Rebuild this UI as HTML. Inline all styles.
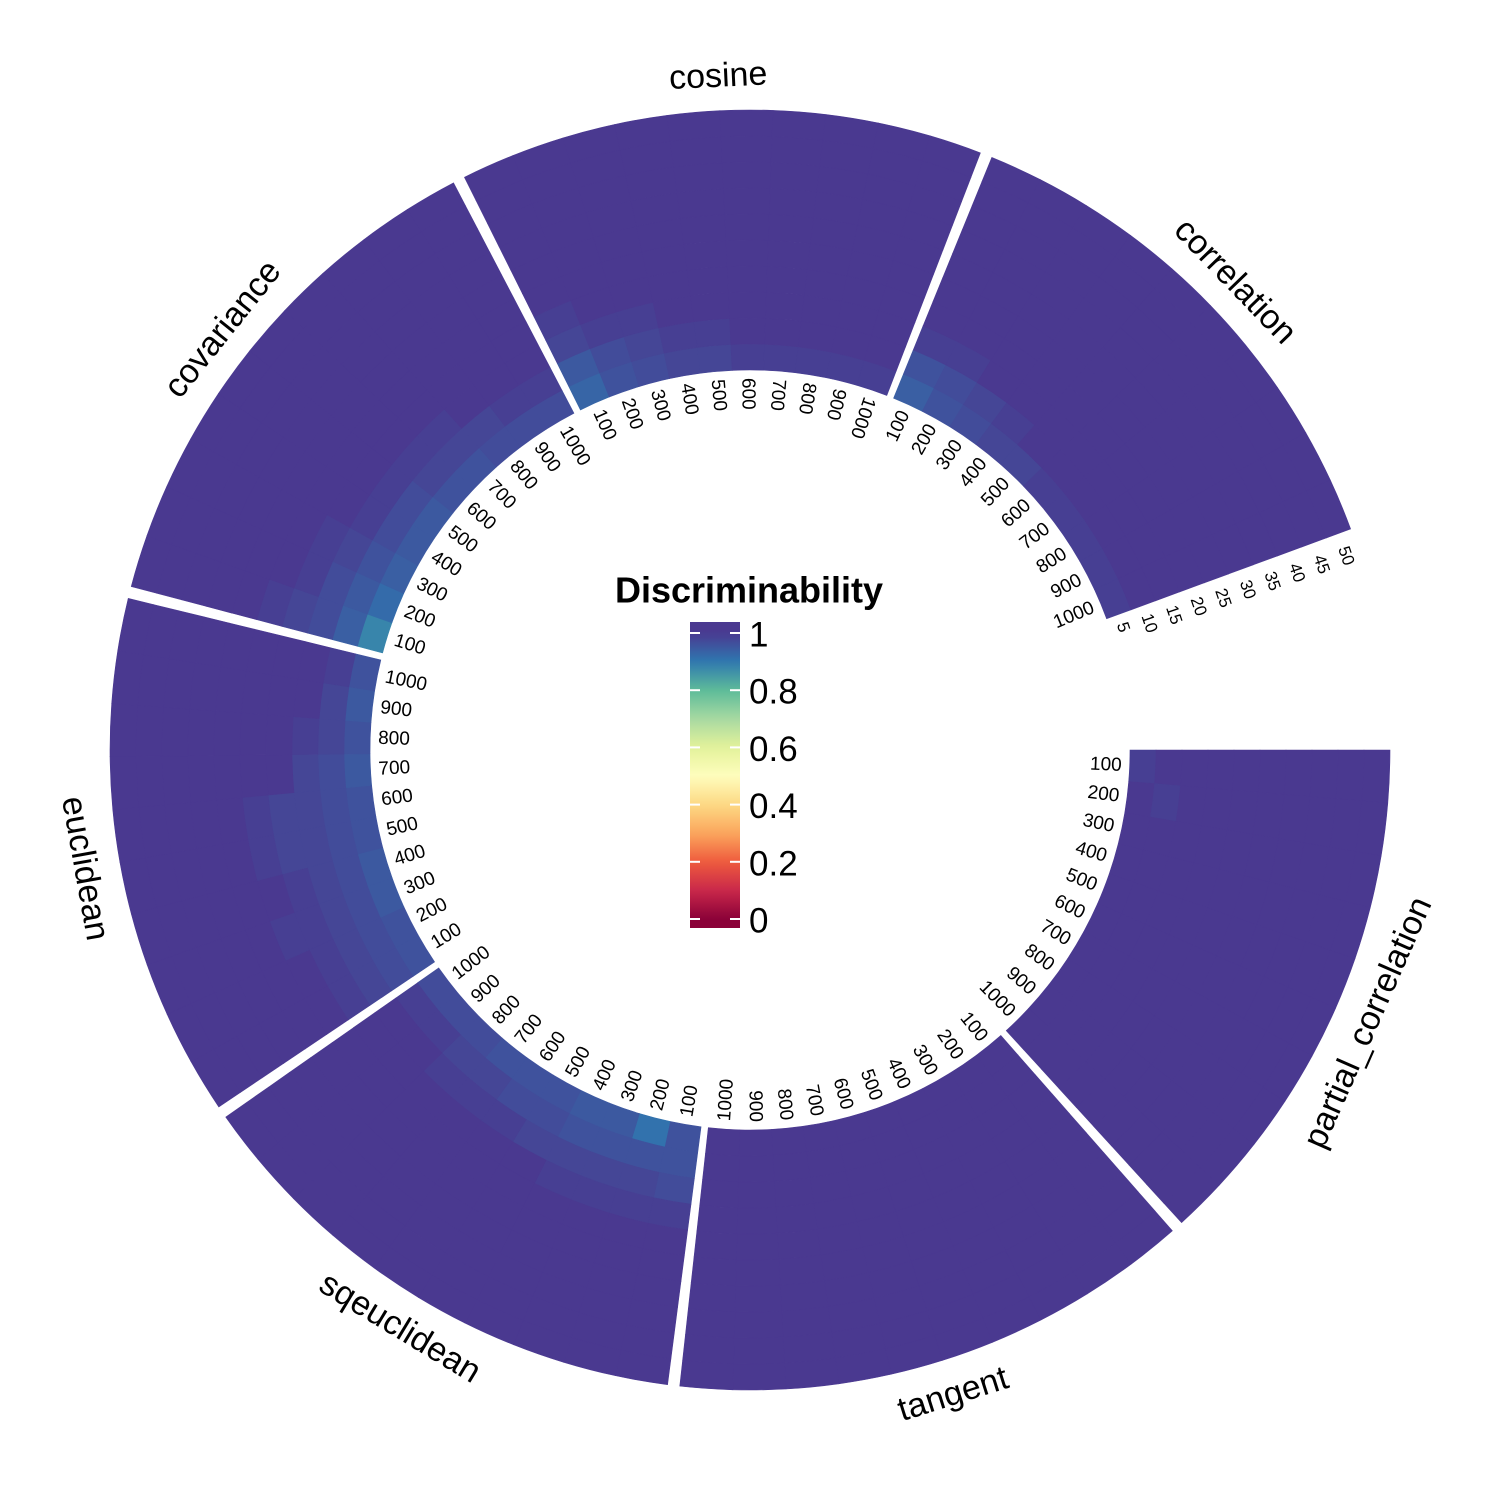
<!DOCTYPE html>
<html><head><meta charset="utf-8"><style>
html,body{margin:0;padding:0;background:#fff}
svg{display:block}
text{font-family:"Liberation Sans",Arial,sans-serif}
</style></head><body>
<svg id="chart" width="1500" height="1500" viewBox="0 0 1500 1500" xmlns="http://www.w3.org/2000/svg">
<g id="cells"></g>
<g id="labels"></g>
<g id="legend"></g>
</svg>
<script>
const sectorNames = ["partial_correlation","tangent","sqeuclidean","euclidean","covariance","cosine","correlation"];
const angularTicks = ["100","200","300","400","500","600","700","800","900","1000"];
const radialTicks = ["5","10","15","20","25","30","35","40","45","50"];
const legendTicks = [0,0.2,0.4,0.6,0.8,1];
const legendTickLabels = ["0","0.2","0.4","0.6","0.8","1"];
// values[sector][angular][radial]
const valsPartial = [
[.99,1,1,1,1,1,1,1,1,1],[1,.99,1,1,1,1,1,1,1,1],[1,1,1,1,1,1,1,1,1,1],[1,1,1,1,1,1,1,1,1,1],[1,1,1,1,1,1,1,1,1,1],
[1,1,1,1,1,1,1,1,1,1],[1,1,1,1,1,1,1,1,1,1],[1,1,1,1,1,1,1,1,1,1],[1,1,1,1,1,1,1,1,1,1],[1,1,1,1,1,1,1,1,1,1]];
const valsTangent = [
[1,1,1,1,1,1,1,1,1,1],[1,1,1,1,1,1,1,1,1,1],[1,1,1,1,1,1,1,1,1,1],[1,1,1,1,1,1,1,1,1,1],[1,1,1,1,1,1,1,1,1,1],
[1,1,1,1,1,1,1,1,1,1],[1,1,1,1,1,1,1,1,1,1],[1,1,1,1,1,1,1,1,1,1],[1,1,1,1,1,1,1,1,1,1],[1,1,1,1,1,1,1,1,1,1]];
const valsSqeuclidean = [
[.96,.96,.97,.99,1,1,1,1,1,1],[.91,.96,.98,.99,1,1,1,1,1,1],[.95,.96,.98,.99,1,1,1,1,1,1],[.95,.96,.98,.99,1,1,1,1,1,1],[.96,.97,.98,1,1,1,1,1,1,1],
[.96,.97,.99,1,1,1,1,1,1,1],[.96,.98,.99,1,1,1,1,1,1,1],[.97,.98,.99,1,1,1,1,1,1,1],[.97,.99,1,1,1,1,1,1,1,1],[.97,.99,1,1,1,1,1,1,1,1]];
const valsEuclidean = [
[.96,.97,.98,.99,1,1,1,1,1,1],[.96,.97,.98,.99,1,1,1,1,1,1],[.95,.97,.98,.99,.99,1,1,1,1,1],[.95,.97,.98,.99,1,1,1,1,1,1],[.96,.97,.98,.98,.99,1,1,1,1,1],
[.96,.97,.98,.98,.99,1,1,1,1,1],[.95,.97,.98,1,1,1,1,1,1,1],[.96,.98,.99,1,1,1,1,1,1,1],[.95,.98,1,1,1,1,1,1,1,1],[.96,.99,1,1,1,1,1,1,1,1]];
const valsCovariance = [
[.88,.94,.97,.98,.99,1,1,1,1,1],[.92,.95,.97,.99,1,1,1,1,1,1],[.94,.96,.98,.99,1,1,1,1,1,1],[.95,.97,.99,1,1,1,1,1,1,1],[.95,.97,.99,1,1,1,1,1,1,1],
[.96,.98,.99,1,1,1,1,1,1,1],[.96,.98,.99,1,1,1,1,1,1,1],[.97,.98,1,1,1,1,1,1,1,1],[.97,.99,1,1,1,1,1,1,1,1],[.97,.99,1,1,1,1,1,1,1,1]];
const valsCosine = [
[.93,.95,.98,.99,1,1,1,1,1,1],[.96,.97,.99,1,1,1,1,1,1,1],[.97,.98,.99,1,1,1,1,1,1,1],[.98,.99,1,1,1,1,1,1,1,1],[.98,.99,1,1,1,1,1,1,1,1],
[.99,1,1,1,1,1,1,1,1,1],[.99,1,1,1,1,1,1,1,1,1],[.99,1,1,1,1,1,1,1,1,1],[.99,1,1,1,1,1,1,1,1,1],[.99,1,1,1,1,1,1,1,1,1]];
const valsCorrelation = [
[.94,.96,.99,1,1,1,1,1,1,1],[.96,.97,.99,1,1,1,1,1,1,1],[.97,.98,1,1,1,1,1,1,1,1],[.98,.99,1,1,1,1,1,1,1,1],[.98,1,1,1,1,1,1,1,1,1],
[.99,1,1,1,1,1,1,1,1,1],[.99,1,1,1,1,1,1,1,1,1],[.99,1,1,1,1,1,1,1,1,1],[.99,1,1,1,1,1,1,1,1,1],[.99,1,1,1,1,1,1,1,1,1]];
const allVals = [valsPartial,valsTangent,valsSqeuclidean,valsEuclidean,valsCovariance,valsCosine,valsCorrelation];

const NS="http://www.w3.org/2000/svg";
const CX=750, CY=750, R0=380, R1=640;
const START=90, STEP=48.7, SPAN=47.6;
const stops=[[0,"#8a0138"],[0.1,"#c9284a"],[0.2,"#ef5b3d"],[0.3,"#fba65d"],[0.4,"#fdd984"],[0.5,"#fefdbd"],[0.6,"#e3f29a"],[0.7,"#a7d9a2"],[0.8,"#5dbb99"],[0.9,"#2f78b0"],[1,"#4a3990"]];
function hex(c){return [1,3,5].map(i=>parseInt(c.substr(i,2),16));}
function color(v){
  v=Math.max(0,Math.min(1,v));
  for(let i=0;i<stops.length-1;i++){
    const [a,ca]=stops[i],[b,cb]=stops[i+1];
    if(v<=b){const t=(v-a)/(b-a),A=hex(ca),B=hex(cb);
      return "rgb("+A.map((x,k)=>Math.round(x+(B[k]-x)*t)).join(",")+")";}
  }
  return stops[stops.length-1][1];
}
function pt(r,deg){const a=deg*Math.PI/180;return [CX+r*Math.sin(a),CY-r*Math.cos(a)];}
function angScale(s,i){return START+s*STEP+SPAN*i/angularTicks.length;}
function radScale(j){return R0+(R1-R0)*j/radialTicks.length;}
function mk(tag,attrs,parent){const e=document.createElementNS(NS,tag);for(const k in attrs)e.setAttribute(k,attrs[k]);parent.appendChild(e);return e;}

const gC=document.getElementById("cells"), gL=document.getElementById("labels"), gG=document.getElementById("legend");
allVals.forEach((rows,s)=>{
  rows.forEach((row,i)=>{
    row.forEach((v,j)=>{
      const a0=angScale(s,i),a1=angScale(s,i+1),r0=radScale(j),r1=radScale(j+1);
      const p1=pt(r1,a0),p2=pt(r1,a1),p3=pt(r0,a1),p4=pt(r0,a0);
      const d=`M${p1}A${r1},${r1} 0 0 1 ${p2}L${p3}A${r0},${r0} 0 0 0 ${p4}Z`;
      const c=color(v);
      const el=mk("path",{d:d,fill:c,stroke:c,"stroke-width":"0.6"},gC);
      
      
    });
  });
  angularTicks.forEach((lab,i)=>{
    const a=(angScale(s,i)+angScale(s,i+1))/2, an=((a%360)+360)%360;
    const [x,y]=pt(372,a);
    const outward = an>22 && an<180;
    const rot = outward ? a-90 : a+90;
    const t=mk("text",{x:x,y:y,"font-size":"19","text-anchor":outward?"end":"start","dominant-baseline":"central",transform:`rotate(${rot} ${x} ${y})`},gL);
    t.textContent=lab;
    
    
  });
  const mid=angScale(s,angularTicks.length/2), mn=((mid%360)+360)%360;
  const [nx,ny]=pt(675,mid);
  const nrot=(mn>90&&mn<270)?mid-180:mid;
  const n=mk("text",{x:nx,y:ny,"font-size":"34","text-anchor":"middle","dominant-baseline":"central",transform:`rotate(${nrot} ${nx} ${ny})`},gL);
  n.textContent=sectorNames[s];
  
  
});
const endA=angScale(sectorNames.length-1,angularTicks.length)+1.3;
radialTicks.forEach((lab,j)=>{
  const r=(radScale(j)+radScale(j+1))/2;
  const [x,y]=pt(r,endA);
  const t=mk("text",{x:x,y:y,"font-size":"17","text-anchor":"start","dominant-baseline":"central",transform:`rotate(${endA} ${x} ${y})`},gL);
  t.textContent=lab;
  
  
});
// legend
const LX=690,LW=50,LY0=919,LY1=633,BT=622,BB=928;
function ly(v){return LY0+(LY1-LY0)*v;}
const title=mk("text",{x:749,y:590,"font-size":"36","font-weight":"bold","text-anchor":"middle","dominant-baseline":"central"},gG);
title.textContent="Discriminability";


const defs=mk("defs",{},gG);
const grad=mk("linearGradient",{id:"lg",x1:"0",y1:String(BB),x2:"0",y2:String(BT),gradientUnits:"userSpaceOnUse"},defs);
for(let k=0;k<=40;k++){
  const yy=BB-(BB-BT)*k/40; const val=(LY0-yy)/(LY0-LY1);
  mk("stop",{offset:(k/40).toFixed(3),"stop-color":color(val)},grad);
}
const bar=mk("rect",{x:LX,y:BT,width:LW,height:BB-BT,fill:"url(#lg)"},gG);


legendTicks.forEach((v,k)=>{
  const y=ly(v);
  const t1=mk("line",{x1:LX,x2:LX+10,y1:y,y2:y,stroke:"#fff","stroke-width":"2"},gG);
  
  
  const t2=mk("line",{x1:LX+LW-10,x2:LX+LW,y1:y,y2:y,stroke:"#fff","stroke-width":"2"},gG);
  
  
  const tl=mk("text",{x:749,y:y+2,"font-size":"35","dominant-baseline":"central"},gG);
  tl.textContent=legendTickLabels[k];
  
  
});
</script>
</body></html>
